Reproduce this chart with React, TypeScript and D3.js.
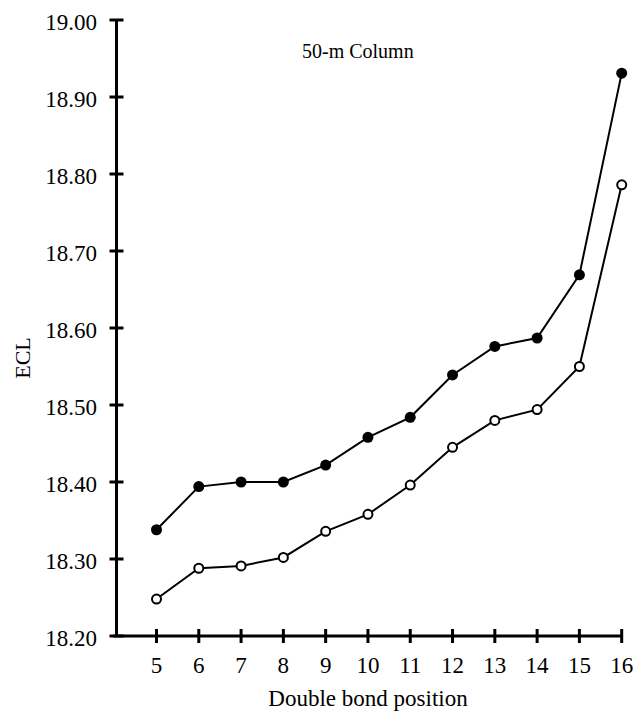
import React from "react";
import * as d3 from "d3";

// double bond position (x) and ECL values
const positions = [5, 6, 7, 8, 9, 10, 11, 12, 13, 14, 15, 16];
const filledSeries = [18.338, 18.394, 18.4, 18.4, 18.422, 18.458, 18.484, 18.539, 18.576, 18.587, 18.669, 18.931];
const openSeries = [18.248, 18.288, 18.291, 18.302, 18.336, 18.358, 18.396, 18.445, 18.48, 18.494, 18.55, 18.786];
const yTicks = [18.2, 18.3, 18.4, 18.5, 18.6, 18.7, 18.8, 18.9, 19.0];

const W = 636;
const H = 713;
const FONT = "Liberation Serif, DejaVu Serif, serif";

export default function App() {
  const x = d3.scaleLinear().domain([5, 16]).range([156.5, 621.7]);
  const y = d3.scaleLinear().domain([18.2, 19.0]).range([636, 20]);
  const axisX = 116.5;

  const line = d3
    .line<number>()
    .x((d, i) => x(positions[i]))
    .y((d) => y(d));

  const txt = { fontFamily: FONT };

  return (
    <svg
      width={W}
      height={H}
      style={{ position: "absolute", left: 0, top: 0, background: "#fff" }}
    >
      {/* y axis */}
      <line x1={axisX} x2={axisX} y1={y(19.0)} y2={y(18.2)} stroke="#000" strokeWidth={3} />
      {yTicks.map((t) => (
        <g key={t}>
          <line x1={axisX - 7} x2={axisX + 7} y1={y(t)} y2={y(t)} stroke="#000" strokeWidth={3} />
          <text x={97} y={y(t) + 2.5} textAnchor="end" dominantBaseline="central" fontSize={23} style={txt}>
            {t.toFixed(2)}
          </text>
        </g>
      ))}
      <text
        transform={`translate(22,${y(18.6) + 30}) rotate(-90)`}
        textAnchor="middle"
        dominantBaseline="central"
        fontSize={22}
        style={txt}
      >
        ECL
      </text>

      {/* x axis */}
      <line x1={axisX - 3} x2={x(16)} y1={y(18.2)} y2={y(18.2)} stroke="#000" strokeWidth={3} />
      {positions.map((p) => (
        <g key={p}>
          <line x1={x(p)} x2={x(p)} y1={y(18.2) - 7} y2={y(18.2) + 7} stroke="#000" strokeWidth={3} />
          <text x={x(p)} y={673} textAnchor="middle" fontSize={23} style={txt}>
            {p}
          </text>
        </g>
      ))}
      <text x={368} y={706} textAnchor="middle" fontSize={23} style={txt}>
        Double bond position
      </text>

      <text x={302} y={58} fontSize={20} style={txt}>
        50-m Column
      </text>

      {/* series */}
      <path d={line(filledSeries) || ""} fill="none" stroke="#000" strokeWidth={2} />
      <path d={line(openSeries) || ""} fill="none" stroke="#000" strokeWidth={2} />
      {filledSeries.map((v, i) => (
        <circle key={"f" + i} cx={x(positions[i])} cy={y(v)} r={5.5} fill="#000" />
      ))}
      {openSeries.map((v, i) => (
        <circle key={"o" + i} cx={x(positions[i])} cy={y(v)} r={4.5} fill="#fff" stroke="#000" strokeWidth={2} />
      ))}
    </svg>
  );
}
